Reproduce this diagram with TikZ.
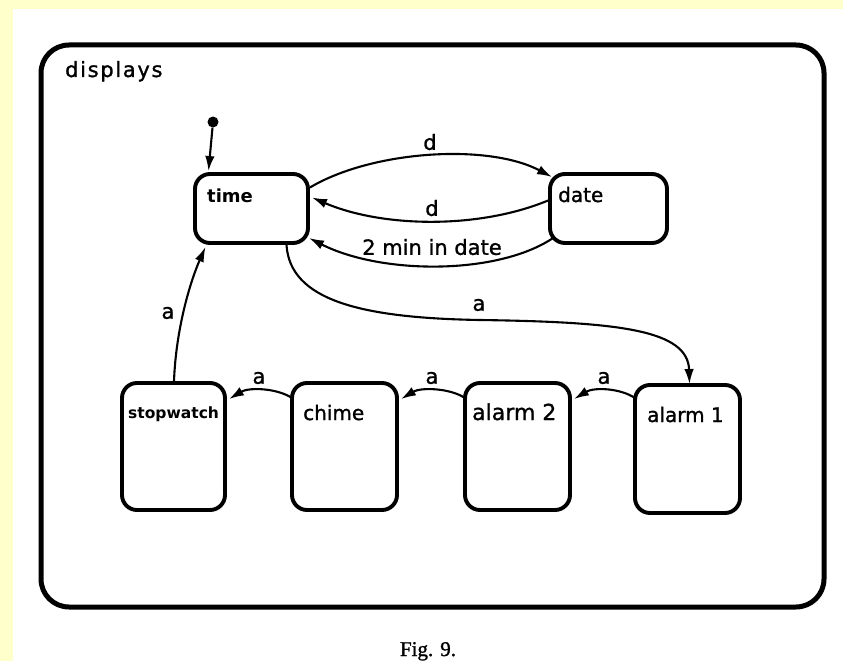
\documentclass[tikz,border=0pt]{standalone}
\usepackage{fontspec}
\setmainfont{DejaVu Sans}
\newfontfamily\lab{DejaVu Sans}[FakeBold=1.2]
\newfontfamily\capfont{Liberation Serif}[FakeBold=1.2]
\usetikzlibrary{arrows.meta}
\definecolor{bgyellow}{RGB}{255,255,204}
\begin{document}
\begin{tikzpicture}[x=1pt,y=-1pt,
  statebox/.style={draw, line width=3.9pt, rounded corners=15pt, inner sep=0pt},
  outerbox/.style={draw, line width=5pt, rounded corners=28pt, inner sep=0pt},
  tr/.style={line width=2.1pt, -{Latex[length=15pt,width=9.5pt]}},
  lbl/.style={font=\lab\fontsize{21pt}{21pt}\selectfont, inner sep=0pt},
  nm/.style={font=\lab\fontsize{20pt}{20pt}\selectfont, anchor=base west, inner sep=0pt},
  nmb/.style={font=\fontsize{18pt}{18pt}\selectfont\bfseries, anchor=base west, inner sep=0pt}
]
\path[use as bounding box, fill=white] (0,0) rectangle (843,661);
\fill[bgyellow] (0,0) rectangle (13,661);
\fill[bgyellow] (0,0) rectangle (843,9);

\node[outerbox, minimum width=783pt, minimum height=562pt] (displays) at (432.5,326) {};
\node[nm, font=\lab\fontsize{21pt}{21pt}\selectfont\addfontfeature{LetterSpace=8}] (displaysLbl) at (65,77) {displays};

\node[statebox, minimum width=113pt, minimum height=69pt] (time) at (251.5,208.5) {};
\node[nmb] (timeLbl) at (207,202) {time};
\node[statebox, minimum width=117pt, minimum height=69pt] (date) at (608.5,208.5) {};
\node[nm] (dateLbl) at (558,202) {date};

\node[statebox, minimum width=103pt, minimum height=127pt] (stopwatch) at (173.5,446.5) {};
\node[nmb, font=\fontsize{15.5pt}{15.5pt}\selectfont\bfseries] (stopwatchLbl) at (128,418) {stopwatch};
\node[statebox, minimum width=105pt, minimum height=127pt] (chime) at (344.5,446.5) {};
\node[nm] (chimeLbl) at (303,420) {chime};
\node[statebox, minimum width=105pt, minimum height=127pt] (alarmtwo) at (517.5,446.5) {};
\node[nm, font=\lab\fontsize{22pt}{22pt}\selectfont] (alarmtwoLbl) at (472,420) {alarm 2};
\node[statebox, minimum width=105pt, minimum height=128pt] (alarmone) at (687.5,449) {};
\node[nm] (alarmoneLbl) at (647,422) {alarm 1};

% initial
\node[circle, fill, inner sep=0pt, minimum size=11pt] (init) at (213,122) {};
\draw[tr] (init) -- ([xshift=-43pt,yshift=1pt]time.north);

% time <-> date
\draw[tr] ([yshift=21pt]time.east) .. controls +(62,-37) and +(-64,-34) .. ([xshift=4pt,yshift=-5pt]date.north west);
\node[lbl] (dOneLbl) at (430,142) {d};
\draw[tr] ([yshift=8pt]date.west) .. controls +(-70,29) and +(70,30) .. ([xshift=2pt,yshift=11pt]time.east);
\node[lbl] (dTwoLbl) at (432,208) {d};
\draw[tr] ([xshift=5pt,yshift=-29.5pt]date.west) .. controls +(-55,37) and +(73,37) .. ([xshift=-1pt,yshift=-29.5pt]time.east);
\node[lbl] (minLbl) at (432,247) {2 min in date};

% time -> alarm 1
\draw[tr] ([xshift=35pt]time.south) .. controls (290,300) and (360,318) .. (480,320)
  .. controls (620,322) and (688,330) .. ([xshift=2pt,yshift=-1pt]alarmone.north);
\node[lbl] (aOneLbl) at (479,305) {a};

% bottom chain
\draw[tr] ([xshift=2pt,yshift=-15pt]alarmone.north west) .. controls +(-15,-10) and +(20,-12) .. ([xshift=2pt,yshift=-18pt]alarmtwo.north east);
\node[lbl] (aTwoLbl) at (604,378) {a};
\draw[tr] ([xshift=2pt,yshift=-17pt]alarmtwo.north west) .. controls +(-15,-10) and +(20,-12) .. ([xshift=2pt,yshift=-18pt]chime.north east);
\node[lbl] (aThreeLbl) at (432,378) {a};
\draw[tr] ([xshift=2pt,yshift=-17pt]chime.north west) .. controls +(-15,-10) and +(20,-12) .. ([xshift=2pt,yshift=-18pt]stopwatch.north east);
\node[lbl] (aFourLbl) at (259,378) {a};

% stopwatch -> time
\draw[tr] ([xshift=0.5pt]stopwatch.north) .. controls +(2,-53) and +(-15,34) .. ([xshift=-46pt,yshift=-2pt]time.south);
\node[lbl] (aFiveLbl) at (168,313) {a};

\node[font=\capfont\fontsize{21pt}{21pt}\selectfont, anchor=base, inner sep=0pt] (caption) at (428,656) {Fig. 9.};
\end{tikzpicture}
\end{document}
